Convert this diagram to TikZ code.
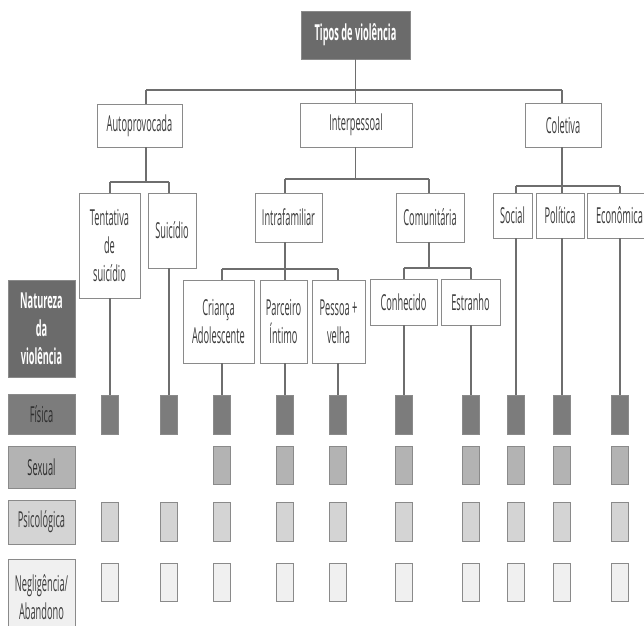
\documentclass[tikz,border=0pt]{standalone}
\usepackage{fontspec}
\setmainfont{Open Sans}[FakeStretch=0.42]
\definecolor{bordc}{HTML}{8A8A8A}
\definecolor{linec}{HTML}{6E6E6E}
\definecolor{txtc}{HTML}{3C3C3C}
\definecolor{darkc}{HTML}{6B6B6B}
\definecolor{fisc}{HTML}{7C7C7C}
\definecolor{sexc}{HTML}{B3B3B3}
\definecolor{psic}{HTML}{D4D4D4}
\definecolor{negc}{HTML}{F0F0F0}
\definecolor{fistxt}{HTML}{2E2E2E}
\begin{document}
\begin{tikzpicture}[x=1pt,y=-1pt,
  box/.style={draw=bordc, line width=0.9pt, fill=white, text=txtc, inner sep=0pt, align=center,
    font=\fontsize{22}{28}\selectfont},
  darkbox/.style={box, fill=darkc, text=white, font=\fontsize{22}{28}\selectfont\bfseries},
  rowlab/.style={box, minimum width=67pt},
  cell/.style={draw=bordc, line width=0.9pt, minimum width=17pt, inner sep=0pt},
  conn/.style={draw=linec, line width=1.2pt},
  bar/.style={draw=linec, line width=2.4pt}]
\path[use as bounding box] (0,0) rectangle (644,625);

% level 0
\node[darkbox, minimum width=109pt, minimum height=48pt] (top) at (355.5,35) {Tipos de violência};
% level 1
\node[box, minimum width=85pt, minimum height=43pt] (auto) at (139.5,125.5) {Autoprovocada};
\node[box, minimum width=112pt, minimum height=44pt] (interp) at (356,125) {Interpessoal};
\node[box, minimum width=76pt, minimum height=44pt] (colet) at (563,125) {Coletiva};
% level 2
\node[box, minimum width=61pt, minimum height=105pt] (tent) at (109.5,245.5) {Tentativa\\de\\suicídio};
\node[box, minimum width=48pt, minimum height=75pt] (suic) at (172,230.5) {Suicídio};
\node[box, minimum width=67pt, minimum height=49pt] (intra) at (288.5,217.5) {Intrafamiliar};
\node[box, minimum width=68pt, minimum height=49pt] (comun) at (430,217.5) {Comunitária};
\node[box, minimum width=39pt, minimum height=45pt] (social) at (512.5,215.5) {Social};
\node[box, minimum width=48pt, minimum height=45pt] (polit) at (560,215.5) {Política};
\node[box, minimum width=65pt, minimum height=45pt] (econ) at (619.5,215.5) {Econômica};
% level 3
\node[box, minimum width=71pt, minimum height=83pt] (crianca) at (218.5,321.5) {Criança\\Adolescente};
\node[box, minimum width=47pt, minimum height=83pt] (parceiro) at (283.5,321.5) {Parceiro\\Íntimo};
\node[box, minimum width=53pt, minimum height=83pt] (pessoa) at (338.5,321.5) {Pessoa +\\velha};
\node[box, minimum width=67pt, minimum height=46pt] (conhec) at (403.5,302) {Conhecido};
\node[box, minimum width=59pt, minimum height=46pt] (estranho) at (470.5,302) {Estranho};

% row labels
\node[darkbox, minimum width=67pt, minimum height=97pt] (natur) at (41.5,328.5) {Natureza\\da\\violência};
\node[rowlab, fill=fisc, text=fistxt, minimum height=40pt] (lf) at (41.5,414) {Física};
\node[rowlab, fill=sexc, text=fistxt, minimum height=42pt] (ls) at (41.5,467) {Sexual};
\node[rowlab, fill=psic, minimum height=44pt] (lp) at (41.5,522) {Psicológica};
\node[rowlab, fill=negc, minimum height=77pt] (ln) at (41.5,597.5) {Negligência/\\Abandono};

% cells
\foreach \x/\n in {110/1,169/2,222/3,285/4,338/5,404/6,471/7,516/8,562/9,620/10}{
  \node[cell, fill=fisc, minimum height=39pt] (f\n) at (\x,414.5) {};
  \node[cell, fill=psic, minimum height=39pt] (p\n) at (\x,521.5) {};
  \node[cell, fill=negc, minimum height=38pt] (n\n) at (\x,582) {};
}
\foreach \x/\n in {222/3,285/4,338/5,404/6,471/7,516/8,562/9,620/10}{
  \node[cell, fill=sexc, minimum height=38pt] (s\n) at (\x,465) {};
}

% level 0 -> 1
\coordinate (b1L) at (146,90);
\coordinate (b1R) at (562,90);
\draw[conn] (top.south) -- (top.south |- b1L);
\draw[bar] (b1L) -- (b1R);
\draw[conn] (b1L) -- (b1L |- auto.north);
\draw[conn] (top.south |- b1L) -- (top.south |- interp.north);
\draw[conn] (b1R) -- (b1R |- colet.north);

% Autoprovocada
\coordinate (b2L) at (110,182);
\coordinate (b2R) at (169,182);
\draw[conn] (b1L |- auto.south) -- (b1L |- b2L);
\draw[bar] (b2L) -- (b2R);
\draw[conn] (b2L) -- (b2L |- tent.north);
\draw[conn] (b2R) -- (b2R |- suic.north);

% Interpessoal
\coordinate (b3L) at (285,179);
\coordinate (b3R) at (429,179);
\draw[conn] (top.south |- interp.south) -- (top.south |- b3L);
\draw[bar] (b3L) -- (b3R);
\draw[conn] (b3L) -- (b3L |- intra.north);
\draw[conn] (b3R) -- (b3R |- comun.north);

% Coletiva
\coordinate (b4L) at (516,186);
\coordinate (b4R) at (620,186);
\draw[conn] (b1R |- colet.south) -- (b1R |- b4L);
\draw[bar] (b4L) -- (b4R);
\draw[conn] (b4L) -- (b4L |- social.north);
\draw[conn] (b1R |- b4L) -- (b1R |- polit.north);
\draw[conn] (b4R) -- (b4R |- econ.north);

% Intrafamiliar
\coordinate (b5L) at (222,269);
\coordinate (b5R) at (338,269);
\draw[conn] (b3L |- intra.south) -- (b3L |- b5L);
\draw[conn, line width=1.8pt] (b5L) -- (b5R);
\draw[conn] (b5L) -- (b5L |- crianca.north);
\draw[conn] (b3L |- b5L) -- (b3L |- parceiro.north);
\draw[conn] (b5R) -- (b5R |- pessoa.north);

% Comunitaria
\coordinate (b6L) at (404,268);
\coordinate (b6R) at (471,268);
\draw[conn] (b3R |- comun.south) -- (b3R |- b6L);
\draw[bar] (b6L) -- (b6R);
\draw[conn] (b6L) -- (b6L |- conhec.north);
\draw[conn] (b6R) -- (b6R |- estranho.north);

% column drops to Fisica cells
\draw[conn] (f1.north |- tent.south) -- (f1.north);
\draw[conn] (f2.north |- suic.south) -- (f2.north);
\draw[conn] (f3.north |- crianca.south) -- (f3.north);
\draw[conn] (f4.north |- parceiro.south) -- (f4.north);
\draw[conn] (f5.north |- pessoa.south) -- (f5.north);
\draw[conn] (f6.north |- conhec.south) -- (f6.north);
\draw[conn] (f7.north |- estranho.south) -- (f7.north);
\draw[conn] (f8.north |- social.south) -- (f8.north);
\draw[conn] (f9.north |- polit.south) -- (f9.north);
\draw[conn] (f10.north |- econ.south) -- (f10.north);
\end{tikzpicture}
\end{document}
